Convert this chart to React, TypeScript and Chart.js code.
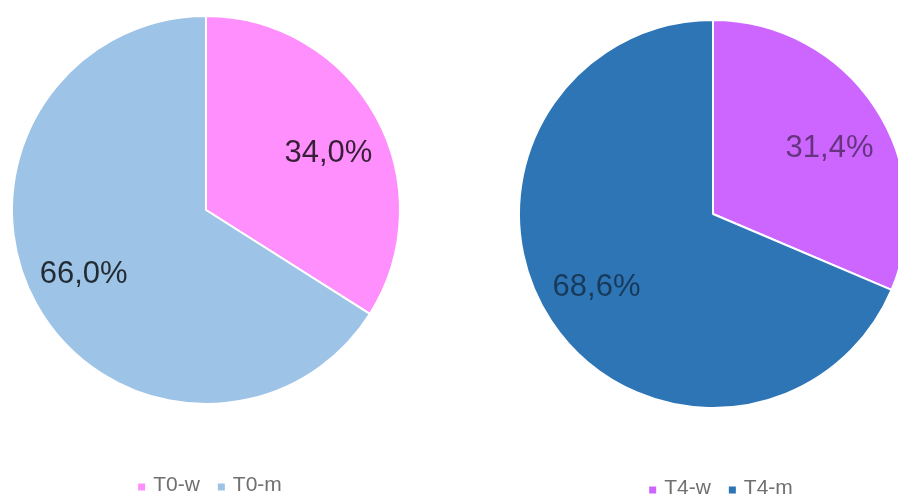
import React, { useEffect, useRef } from 'react';
import { Chart, registerables } from 'chart.js';

Chart.register(...registerables);

const leftLabels = ['T0-w', 'T0-m'];
const leftValues = [34.0, 66.0];
const leftColors = ['#FF8FFC', '#9DC3E6'];

const rightLabels = ['T4-w', 'T4-m'];
const rightValues = [31.4, 68.6];
const rightColors = ['#CC66FF', '#2E75B6'];

const fmt = (v: number) => v.toFixed(1).replace('.', ',') + '%';

const pctLabelPlugin = {
  id: 'pctLabels',
  afterDatasetsDraw(chart: any, _args: any, opts: any) {
    const ctx = chart.ctx;
    const meta = chart.getDatasetMeta(0);
    const data = chart.data.datasets[0].data as number[];
    ctx.save();
    ctx.font = `${opts.size}px "Liberation Sans", Arial, sans-serif`;
    ctx.fillStyle = opts.color;
    ctx.textAlign = 'center';
    ctx.textBaseline = 'middle';
    meta.data.forEach((arc: any, i: number) => {
      const p = arc.getProps(['x', 'y', 'startAngle', 'endAngle', 'outerRadius'], true);
      const mid = (p.startAngle + p.endAngle) / 2;
      const r = p.outerRadius * opts.ratio;
      ctx.fillText(
        fmt(data[i]),
        p.x + Math.cos(mid) * r,
        p.y + Math.sin(mid) * r * opts.yScale + opts.dy
      );
    });
    ctx.restore();
  },
};

const bottomLegendPlugin = {
  id: 'bottomLegend',
  afterDraw(chart: any, _args: any, opts: any) {
    const ctx = chart.ctx;
    const labels = chart.data.labels as string[];
    const colors = chart.data.datasets[0].backgroundColor as string[];
    ctx.save();
    ctx.font = `${opts.size}px "Liberation Sans", Arial, sans-serif`;
    ctx.textBaseline = 'middle';
    ctx.textAlign = 'left';
    const box = opts.box;
    const gap = opts.gap;
    const itemGap = opts.itemGap;
    const widths = labels.map((l) => ctx.measureText(l).width);
    let total = 0;
    widths.forEach((w, i) => {
      total += box + gap + w + (i < widths.length - 1 ? itemGap : 0);
    });
    let x = opts.cx - total / 2;
    labels.forEach((l, i) => {
      ctx.fillStyle = colors[i];
      ctx.fillRect(x, opts.cy - box / 2 + 2, box, box);
      x += box + gap;
      ctx.fillStyle = opts.color;
      ctx.fillText(l, x, opts.cy);
      x += widths[i] + itemGap;
    });
    ctx.restore();
  },
};

type PieProps = {
  labels: string[];
  values: number[];
  colors: string[];
  left: number;
  width: number;
  height: number;
  padBottom: number;
  radius: number;
  labelColor: string;
  legendCx: number;
  legendCy: number;
};

function Pie(props: PieProps) {
  const ref = useRef<HTMLCanvasElement | null>(null);
  useEffect(() => {
    if (!ref.current) return;
    const chart = new Chart(ref.current, {
      type: 'pie',
      data: {
        labels: props.labels,
        datasets: [
          {
            data: props.values,
            backgroundColor: props.colors,
            borderColor: '#FFFFFF',
            borderWidth: 2,
            radius: props.radius,
          } as any,
        ],
      },
      options: {
        responsive: false,
        animation: false,
        layout: { padding: { top: 0, left: 0, right: 0, bottom: props.padBottom } },
        plugins: {
          legend: { display: false },
          tooltip: { enabled: false },
          pctLabels: { size: 31, color: props.labelColor, ratio: 0.72, yScale: 0.9, dy: 4 },
          bottomLegend: {
            size: 21,
            color: '#707070',
            box: 7,
            gap: 8,
            itemGap: 18,
            cx: props.legendCx,
            cy: props.legendCy,
          },
        } as any,
      },
      plugins: [pctLabelPlugin, bottomLegendPlugin],
    });
    return () => chart.destroy();
  }, []);
  return (
    <canvas
      ref={ref}
      width={props.width}
      height={props.height}
      style={{ position: 'absolute', left: props.left, top: 0, width: props.width, height: props.height }}
    />
  );
}

export default function App() {
  return (
    <div
      style={{
        position: 'fixed',
        left: 0,
        top: 0,
        width: 898,
        height: 501,
        overflow: 'hidden',
        background: '#FFFFFF',
      }}
    >
      <Pie
        labels={leftLabels}
        values={leftValues}
        colors={leftColors}
        left={-1}
        width={414}
        height={501}
        padBottom={81}
        radius={194}
        labelColor="rgba(0,0,0,0.78)"
        legendCx={211}
        legendCy={485}
      />
      <Pie
        labels={rightLabels}
        values={rightValues}
        colors={rightColors}
        left={506}
        width={414}
        height={501}
        padBottom={73}
        radius={194}
        labelColor="rgba(0,0,0,0.5)"
        legendCx={215}
        legendCy={488}
      />
    </div>
  );
}
